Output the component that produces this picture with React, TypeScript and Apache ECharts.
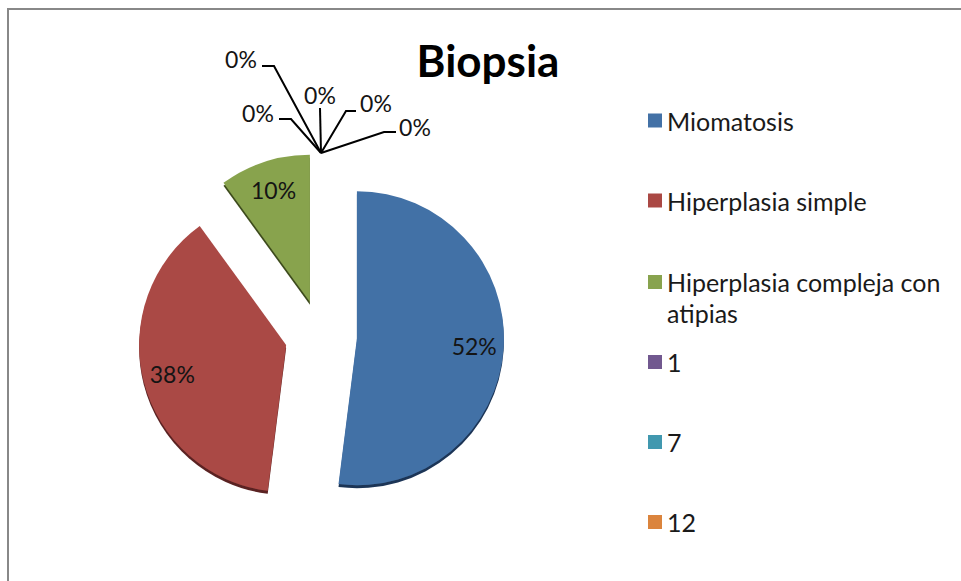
import React, { useEffect, useRef } from 'react';
import * as echarts from 'echarts';

// ---- data ----
const categories = [
  'Miomatosis',
  'Hiperplasia simple',
  'Hiperplasia compleja con atipias',
  '1',
  '7',
  '12',
  'Otros',
  'Sin dato',
];
const values = [52, 38, 10, 0, 0, 0, 0, 0];
const legendGroupA = ['Miomatosis', 'Hiperplasia simple'];
const legendGroupB = ['Hiperplasia compleja con atipias'];
const legendGroupC = ['1', '7', '12'];
const titleText = 'Biopsia';

// ---- styles ----
const colors = ['#4371A6', '#AA4844', '#88A34E', '#71588F', '#4198AF', '#DB843D', '#93A9CF', '#D19392'];
const rimColors = ['#1B3656', '#5A2220', '#3C4C1C', '#3a2c4a', '#1e4a56', '#6e421e', '#4a5568', '#6a4a49'];

const CX = 321;
const CY = 336;
const R = 147;
const OFFSET = 36;
const INSIDE_PUSH = 41;
const LINE_H = 31;

// relative offsets (px) of zero-value label parts from the slice anchor
const ZERO_LABEL_LAYOUT = [
  { knee: [-47, -87], end: [-59, -87], text: [-80, -94] },
  { knee: [-30, -34], end: [-42, -34], text: [-63, -40] },
  { knee: [-1, -45], end: [-1, -45], text: [-1, -58] },
  { knee: [25, -42], end: [35, -42], text: [55, -50] },
  { knee: [63, -21], end: [75, -21], text: [94, -26] },
];

const legendBase = {
  orient: 'vertical',
  left: 648,
  padding: 0,
  itemGap: 80 - LINE_H,
  itemWidth: 14,
  itemHeight: 14,
  icon: 'rect',
  selectedMode: false,
  textStyle: { fontFamily: 'Lato', fontSize: 25, color: '#1a1a1a', lineHeight: LINE_H },
};

export default function App() {
  const ref = useRef<HTMLDivElement>(null);

  useEffect(() => {
    if (!ref.current) return;
    const chart = echarts.init(ref.current, undefined, { renderer: 'svg' });

    const firstZero = values.findIndex((v) => v === 0);

    const data = categories.map((name, i) => {
      const isZero = values[i] === 0;
      return {
        name,
        value: values[i],
        selected: true,
        itemStyle: {
          color: colors[i],
          shadowColor: rimColors[i],
          shadowBlur: 0,
          shadowOffsetX: 0,
          shadowOffsetY: 3,
        },
        label: isZero ? { position: 'outside' } : { position: 'inside' },
        labelLine: { show: isZero, length: 10, length2: 10 },
      };
    });

    chart.setOption({
      animation: false,
      backgroundColor: '#ffffff',
      textStyle: { fontFamily: 'Lato' },
      color: colors,
      title: {
        text: titleText,
        left: 483,
        top: 33,
        textAlign: 'center',
        textStyle: { fontFamily: 'Lato', fontWeight: 'bold', fontSize: 44, color: '#000' },
      },
      legend: [
        { ...legendBase, top: 105, data: legendGroupA },
        {
          ...legendBase,
          top: 282 - 1.5 * LINE_H,
          data: legendGroupB,
          formatter: (name: string) => '\n' + name.replace(' atipias', '\natipias'),
        },
        { ...legendBase, top: 362 - LINE_H / 2, data: legendGroupC },
      ],
      graphic: [
        {
          type: 'rect',
          silent: true,
          z: -10,
          shape: { x: 8, y: 9, width: 1400, height: 1400 },
          style: { fill: 'none', stroke: '#888888', lineWidth: 2 },
        },
      ],
      series: [
        {
          type: 'pie',
          center: [CX, CY],
          radius: R,
          startAngle: 90,
          clockwise: true,
          selectedMode: 'multiple',
          selectedOffset: OFFSET,
          avoidLabelOverlap: false,
          emphasis: { disabled: true },
          itemStyle: { borderWidth: 0 },
          select: { itemStyle: { borderWidth: 0 } },
          label: {
            show: true,
            fontFamily: 'Lato',
            fontSize: 23,
            color: '#141414',
            formatter: (p: any) => Math.round(p.percent) + '%',
          },
          labelLine: {
            lineStyle: { color: '#000', width: 2 },
          },
          labelLayout: (p: any) => {
            const i = p.dataIndex;
            const rect = p.labelRect;
            const lx = rect.x + rect.width / 2;
            const ly = rect.y + rect.height / 2;
            if (values[i] > 0) {
              const ux = lx - CX;
              const uy = ly - CY;
              const len = Math.hypot(ux, uy) || 1;
              return { dx: (ux / len) * INSIDE_PUSH, dy: (uy / len) * INSIDE_PUSH };
            }
            const spec = ZERO_LABEL_LAYOUT[i - firstZero];
            const lp = p.labelLinePoints;
            if (!spec || !lp || !lp.length) return {};
            const ax = lp[0][0];
            const ay = lp[0][1];
            const shift = ly - lp[lp.length - 1][1];
            return {
              dx: ax + spec.text[0] - lx,
              dy: ay + spec.text[1] + shift - ly,
              labelLinePoints: [
                [ax, ay],
                [ax + spec.knee[0], ay + spec.knee[1]],
                [ax + spec.end[0], ay + spec.end[1]],
              ],
            };
          },
          data,
        },
      ],
    });

    return () => chart.dispose();
  }, []);

  return (
    <div
      ref={ref}
      style={{ position: 'fixed', left: 0, top: 0, width: 961, height: 581, background: '#fff' }}
    />
  );
}
